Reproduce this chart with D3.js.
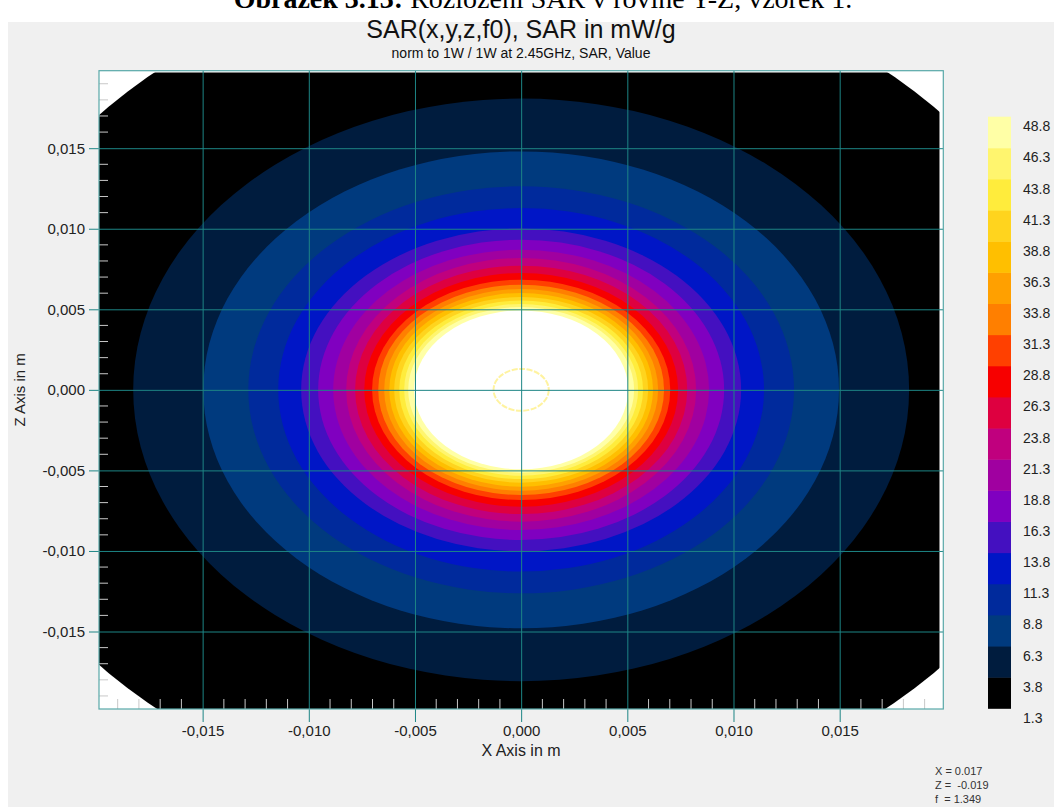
<!DOCTYPE html>
<html>
<head>
<meta charset="utf-8">
<script src="https://cdn.jsdelivr.net/npm/d3@7"></script>
<style>
  html, body { margin: 0; padding: 0; background: #ffffff; }
  svg { display: block; }
</style>
</head>
<body>
<svg id="chart" width="1054" height="807"></svg>
<script>
// ---- Data -------------------------------------------------------------
// Contour levels of SAR (mW/g) and the semi-axes (m) of each iso-line
const contourLevels = [3.8, 6.3, 8.8, 11.3, 13.8, 16.3, 18.8, 21.3, 23.8, 26.3,
                       28.8, 31.3, 33.8, 36.3, 38.8, 41.3, 43.8, 46.3, 48.8];
const contourRx = [0.01827, 0.01497, 0.01285, 0.01144, 0.01036, 0.00956, 0.00885,
                   0.00824, 0.00782, 0.00739, 0.00702, 0.00673, 0.00645, 0.00621,
                   0.00598, 0.00574, 0.00551, 0.00532, 0.00504];
const contourRz = [0.01808, 0.01480, 0.01263, 0.01128, 0.01002, 0.00932, 0.00870,
                   0.00818, 0.00771, 0.00725, 0.00684, 0.00653, 0.00626, 0.00601,
                   0.00576, 0.00554, 0.00533, 0.00514, 0.00493];

// Colour bands, from the lowest (1.3–3.8) to the highest (46.3–48.8)
const bandColors = ["#000000", "#001c3e", "#003a7e", "#002a9c", "#0016c6", "#4410c0",
                    "#8000c0", "#a000a0", "#c0007e", "#de0040", "#f70000", "#ff4000",
                    "#ff7f00", "#ffa000", "#ffbf00", "#ffd41e", "#ffec3c", "#fff56e",
                    "#ffffa6"];
const aboveMaxColor = "#ffffff";

// Legend tick values, top to bottom
const legendValues = [48.8, 46.3, 43.8, 41.3, 38.8, 36.3, 33.8, 31.3, 28.8, 26.3,
                      23.8, 21.3, 18.8, 16.3, 13.8, 11.3, 8.8, 6.3, 3.8, 1.3];

// Axis ticks (m)
const xTicks = [-0.015, -0.010, -0.005, 0.000, 0.005, 0.010, 0.015];
const zTicks = [-0.015, -0.010, -0.005, 0.000, 0.005, 0.010, 0.015];
const minorTicks = d3.range(-19, 20).filter(i => i % 5 !== 0).map(i => i / 1000);

// Extent of the computed field (m)
const fieldRadius = 0.0262;
const fieldX = [-0.0199, 0.0197];
const fieldZ = [-0.0199, 0.0197];
// Small iso-ring around the centre
const ringRadius = 0.0013;

const cursorInfo = ["X = 0.017", "Z =  -0.019", "f  = 1.349"];

// ---- Layout -----------------------------------------------------------
const W = 1054, H = 807;
const plot = { left: 99, right: 943.3, top: 70.7, bottom: 709 };

const svg = d3.select("#chart");
const FONT = "'Liberation Sans', Arial, sans-serif";

const x = d3.scaleLinear().domain([-0.01988, 0.01988]).range([plot.left, plot.right]);
const z = d3.scaleLinear().domain([-0.01981, 0.01981]).range([plot.bottom, plot.top]);

const locale = d3.formatLocale({ decimal: ",", thousands: ".", grouping: [3],
                                 currency: ["", ""], minus: "-" });
const fmt = locale.format(".3f");

// Window background
svg.append("rect").attr("width", W).attr("height", H).attr("fill", "#ffffff");
svg.append("rect").attr("x", 8).attr("y", 22).attr("width", W - 8).attr("height", H - 22)
  .attr("fill", "#f0f0f0");

// Document caption (running off the top edge)
const cap = svg.append("text").attr("x", 543).attr("y", 8)
  .attr("text-anchor", "middle")
  .attr("font-family", "'Liberation Serif', 'Times New Roman', serif")
  .attr("font-size", 28).attr("fill", "#000");
cap.append("tspan").attr("font-weight", "bold").text("Obrázek 3.13:");
cap.append("tspan").text("  Rozložení SAR v rovině Y-Z, vzorek 1.");

// Titles
svg.append("text").attr("x", 521).attr("y", 38).attr("text-anchor", "middle")
  .attr("font-family", FONT).attr("font-size", 25).attr("fill", "#111")
  .text("SAR(x,y,z,f0), SAR in mW/g");
svg.append("text").attr("x", 521).attr("y", 58).attr("text-anchor", "middle")
  .attr("font-family", FONT).attr("font-size", 14).attr("fill", "#111")
  .text("norm to 1W / 1W at 2.45GHz, SAR, Value");

// ---- Plot area --------------------------------------------------------
const defs = svg.append("defs");
const cx = x(0), cz = z(0);
defs.append("clipPath").attr("id", "fieldDisk")
  .append("ellipse")
  .attr("cx", cx).attr("cy", cz)
  .attr("rx", x(fieldRadius) - cx).attr("ry", cz - z(fieldRadius));
defs.append("clipPath").attr("id", "fieldRect")
  .append("rect")
  .attr("x", x(fieldX[0])).attr("y", z(fieldZ[1]))
  .attr("width", x(fieldX[1]) - x(fieldX[0]))
  .attr("height", z(fieldZ[0]) - z(fieldZ[1]));

svg.append("rect")
  .attr("x", plot.left).attr("y", plot.top)
  .attr("width", plot.right - plot.left).attr("height", plot.bottom - plot.top)
  .attr("fill", "#ffffff");

const field = svg.append("g").attr("clip-path", "url(#fieldDisk)")
  .append("g").attr("clip-path", "url(#fieldRect)");

field.append("rect")
  .attr("x", plot.left).attr("y", plot.top)
  .attr("width", plot.right - plot.left).attr("height", plot.bottom - plot.top)
  .attr("fill", bandColors[0]);

const bands = contourLevels.map((lv, i) => ({
  level: lv,
  rx: contourRx[i],
  rz: contourRz[i],
  color: i + 1 < bandColors.length ? bandColors[i + 1] : aboveMaxColor
}));

field.selectAll("ellipse.band").data(bands).join("ellipse")
  .attr("class", "band")
  .attr("cx", cx).attr("cy", cz)
  .attr("rx", d => x(d.rx) - cx)
  .attr("ry", d => cz - z(d.rz))
  .attr("fill", d => d.color);

// Central iso-ring
svg.append("ellipse")
  .attr("cx", cx).attr("cy", cz)
  .attr("rx", x(ringRadius) - cx).attr("ry", cz - z(ringRadius))
  .attr("fill", "none").attr("stroke", "#fff3a0").attr("stroke-width", 2)
  .attr("stroke-dasharray", "6 1.5");

// Minor ticks along the left and bottom edges
svg.append("g").selectAll("line").data(minorTicks).join("line")
  .attr("x1", plot.left).attr("x2", plot.left + 9)
  .attr("y1", d => z(d)).attr("y2", d => z(d))
  .attr("stroke", "#c8c8c8").attr("stroke-width", 1);
svg.append("g").selectAll("line").data(minorTicks).join("line")
  .attr("x1", d => x(d)).attr("x2", d => x(d))
  .attr("y1", plot.bottom).attr("y2", plot.bottom - 10)
  .attr("stroke", "#c8c8c8").attr("stroke-width", 1);

// Major grid + axes
const gridColor = "#1d8585";
const xAxis = svg.append("g").attr("transform", `translate(0,${plot.top})`)
  .call(d3.axisBottom(x).tickValues(xTicks).tickFormat(fmt)
    .tickSize(plot.bottom - plot.top + 13).tickPadding(3));
xAxis.select(".domain").remove();
xAxis.selectAll("line").attr("stroke", gridColor);
xAxis.selectAll("text").attr("font-family", FONT).attr("font-size", 15).attr("fill", "#222");

const zAxis = svg.append("g").attr("transform", `translate(${plot.right},0)`)
  .call(d3.axisLeft(z).tickValues(zTicks).tickFormat(fmt)
    .tickSize(plot.right - plot.left + 10).tickPadding(4));
zAxis.select(".domain").remove();
zAxis.selectAll("line").attr("stroke", gridColor);
zAxis.selectAll("text").attr("font-family", FONT).attr("font-size", 15).attr("fill", "#222");

// Plot frame
svg.append("rect")
  .attr("x", plot.left).attr("y", plot.top)
  .attr("width", plot.right - plot.left).attr("height", plot.bottom - plot.top)
  .attr("fill", "none").attr("stroke", "#58a8a8").attr("stroke-width", 1.2);

// Axis titles
svg.append("text").attr("x", 521).attr("y", 756).attr("text-anchor", "middle")
  .attr("font-family", FONT).attr("font-size", 16).attr("fill", "#222")
  .text("X Axis in m");
svg.append("text").attr("transform", `translate(25,${cz}) rotate(-90)`)
  .attr("text-anchor", "middle")
  .attr("font-family", FONT).attr("font-size", 15).attr("fill", "#222")
  .text("Z Axis in m");

// ---- Colour legend ----------------------------------------------------
const legend = { x: 988, width: 23, top: 116.7, bottom: 708.3 };
const ly = d3.scaleBand()
  .domain(d3.range(bandColors.length))
  .range([legend.bottom, legend.top]).paddingInner(0).paddingOuter(0);

svg.append("g").selectAll("rect").data(bandColors).join("rect")
  .attr("x", legend.x).attr("width", legend.width)
  .attr("y", (d, i) => ly(i)).attr("height", ly.bandwidth() + 0.5)
  .attr("fill", d => d);

const lv = d3.scaleLinear().domain([legendValues[legendValues.length - 1], legendValues[0]])
  .range([legend.bottom, legend.top]);
svg.append("g").selectAll("text").data(legendValues).join("text")
  .attr("x", 1023).attr("y", d => lv(d) + 9.5).attr("dy", "0.36em")
  .attr("font-family", FONT).attr("font-size", 14).attr("fill", "#222")
  .text(d => d.toFixed(1));

// ---- Cursor readout ---------------------------------------------------
svg.append("g").selectAll("text").data(cursorInfo).join("text")
  .attr("x", 935).attr("y", (d, i) => 775 + i * 14.2)
  .attr("font-family", FONT).attr("font-size", 11).attr("fill", "#333")
  .attr("xml:space", "preserve")
  .style("white-space", "pre")
  .text(d => d);
</script>
</body>
</html>
